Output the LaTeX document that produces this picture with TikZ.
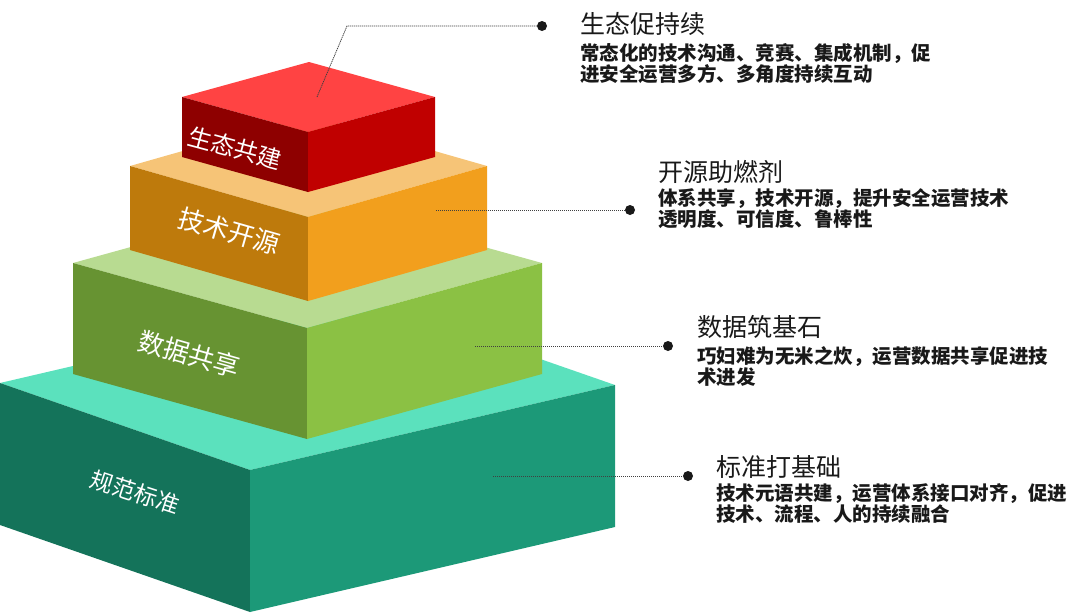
\documentclass[tikz,border=0pt]{standalone}
\usepackage{fontspec}
\newfontfamily\cjk{Noto Sans CJK SC}

\definecolor{redtop}{HTML}{FF4343}
\definecolor{redleft}{HTML}{8E0000}
\definecolor{redright}{HTML}{C00000}
\definecolor{orangetop}{HTML}{F6C477}
\definecolor{orangeleft}{HTML}{BE7A0C}
\definecolor{orangeright}{HTML}{F29F1D}
\definecolor{greentop}{HTML}{B8DB91}
\definecolor{greenleft}{HTML}{679332}
\definecolor{greenright}{HTML}{8BC144}
\definecolor{tealtop}{HTML}{5BE1BD}
\definecolor{tealleft}{HTML}{14735A}
\definecolor{tealright}{HTML}{1C9978}

\tikzset{
  point/.style={
    circle,
    fill=black!90,
    inner sep=0pt,
    minimum size=10pt
  },
  leader/.style={
    draw=black!75,
    line width=0.8pt,
    dash pattern=on 1.2pt off 0.8pt
  },
  facelabel/.style={
    text=white,
    inner sep=0pt,
    font=\cjk\fontsize{26}{26}\selectfont
  },
  title/.style={
    anchor=west,
    inner sep=0pt,
    text=black!90,
    font=\cjk\fontsize{25}{25}\selectfont
  },
  body/.style={
    anchor=north west,
    inner sep=0pt,
    align=left,
    text=black!90,
    font=\cjk\bfseries\fontsize{19.5}{21.5}\selectfont
  }
}

\begin{document}
\begin{tikzpicture}[x=1pt, y=-1pt]
  \useasboundingbox (0,0) rectangle (1080,616);

  % bottom layer
  \fill[tealtop] (0,383) -- (250,470) -- (615,385) -- (365,298) -- cycle;
  \fill[tealleft] (0,383) -- (250,470) -- (250,612) -- (0,525) -- cycle;
  \fill[tealright] (250,470) -- (615,385) -- (615,527) -- (250,612) -- cycle;
  \node[facelabel, rotate=-18, font=\cjk\fontsize{23}{23}\selectfont] (l4) at (135,492) {规范标准};

  \fill[greentop] (73,263) -- (307,328) -- (542,263) -- (308,198) -- cycle;
  \fill[greenleft] (73,263) -- (307,328) -- (307,439) -- (73,374) -- cycle;
  \fill[greenright] (307,328) -- (542,263) -- (542,374) -- (307,439) -- cycle;
  \node[facelabel, rotate=-16] (l3) at (189,354) {数据共享};

  \fill[orangetop] (130,166) -- (308,217) -- (487,166) -- (309,115) -- cycle;
  \fill[orangeleft] (130,166) -- (308,217) -- (308,301) -- (130,250) -- cycle;
  \fill[orangeright] (308,217) -- (487,166) -- (487,250) -- (308,301) -- cycle;
  \node[facelabel, rotate=-16] (l2) at (229,231) {技术开源};

  % top layer
  \fill[redtop] (182,97) -- (308,132) -- (435,97) -- (309,62) -- cycle;
  \fill[redleft] (182,97) -- (308,132) -- (308,192) -- (182,157) -- cycle;
  \fill[redright] (308,132) -- (435,97) -- (435,157) -- (308,192) -- cycle;
  \node[facelabel, rotate=-15, font=\cjk\fontsize{24}{24}\selectfont] (l1) at (235,148) {生态共建};

  % leaders
  \coordinate (s1) at (317,97);
  \coordinate (k1) at (347,26);
  \node[point] (d1) at (542,26) {};
  \draw[leader] (s1) -- (k1) -- (d1);

  \coordinate (s2) at (436,210);
  \node[point] (d2) at (630,210) {};
  \draw[leader] (s2) -- (d2);

  \coordinate (s3) at (475,346);
  \node[point] (d3) at (668,346) {};
  \draw[leader] (s3) -- (d3);

  \coordinate (s4) at (493,476);
  \node[point] (d4) at (688,476) {};
  \draw[leader] (s4) -- (d4);

  % texts
  \node[title] (t1) at (580,24) {生态促持续};
  \node[body] (b1) at (580,43) {常态化的技术沟通、竞赛、集成机制，促\\进安全运营多方、多角度持续互动};

  \node[title] (t2) at (658,172) {开源助燃剂};
  \node[body] (b2) at (658,188) {体系共享，技术开源，提升安全运营技术\\透明度、可信度、鲁棒性};

  \node[title] (t3) at (697,327) {数据筑基石};
  \node[body] (b3) at (697,346) {巧妇难为无米之炊，运营数据共享促进技\\术进发};

  \node[title] (t4) at (716,467) {标准打基础};
  \node[body] (b4) at (716,483) {技术元语共建，运营体系接口对齐，促进\\技术、流程、人的持续融合};
\end{tikzpicture}
\end{document}
